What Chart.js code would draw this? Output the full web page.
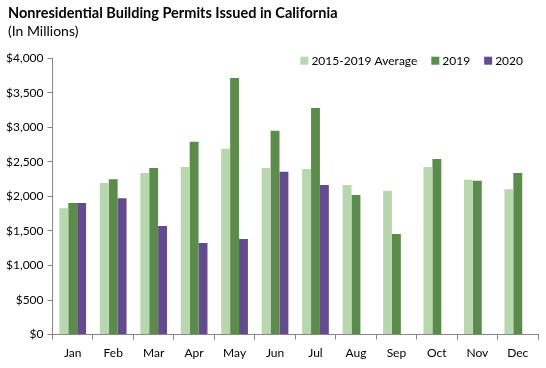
<!DOCTYPE html>
<html>
<head>
<meta charset="utf-8">
<script src="https://cdn.jsdelivr.net/npm/chart.js@4.4.1/dist/chart.umd.min.js"></script>
<style>
  html, body { margin: 0; padding: 0; background: #fff; }
  #wrap { width: 546px; height: 368px; position: relative; }
</style>
</head>
<body>
<div id="wrap"><canvas id="chartPermisos"></canvas></div>
<script>
// datos (millones de dolares)
const meses = ["Jan", "Feb", "Mar", "Apr", "May", "Jun", "Jul", "Aug", "Sep", "Oct", "Nov", "Dec"];
const promedio1519 = [1830, 2195, 2340, 2425, 2690, 2410, 2395, 2165, 2080, 2425, 2240, 2105];
const valores2019 = [1905, 2250, 2410, 2790, 3715, 2950, 3280, 2020, 1455, 2540, 2225, 2340];
const valores2020 = [1905, 1975, 1570, 1325, 1385, 2355, 2165, null, null, null, null, null];
const ticksY = [0, 500, 1000, 1500, 2000, 2500, 3000, 3500, 4000];

const fuente = "Lato, 'Open Sans', sans-serif";
const gris = "#868686";

// leyenda arriba a la derecha, encima del area del grafico (como en Excel)
const leyendaArriba = {
    id: "leyendaArriba",
    afterLayout(chart) {
        // correr titulo y subtitulo un poco a la derecha
        chart.boxes.forEach(b => {
            if (b.options && b.options.text && !b._corrido) {
                b.left += 6; b.right += 6; b._corrido = true;
            }
        });
    },
    afterDraw(chart) {
        const ctx = chart.ctx;
        const area = chart.chartArea;
        ctx.save();
        ctx.font = "12px " + fuente;
        ctx.textBaseline = "middle";
        const caja = 8, sep = 3, entre = 14;
        const items = chart.data.datasets.map(ds => ({ txt: ds.label, color: ds.backgroundColor, w: ctx.measureText(ds.label).width }));
        const total = items.reduce((s, it) => s + caja + sep + it.w, 0) + entre * (items.length - 1);
        let x = area.right - 15 - total;
        const y = area.top + 2.5;
        items.forEach(it => {
            ctx.fillStyle = it.color;
            ctx.fillRect(x, y - caja / 2, caja, caja);
            ctx.fillStyle = "#000";
            ctx.fillText(it.txt, x + caja + sep, y);
            x += caja + sep + it.w + entre;
        });
        ctx.restore();
    }
};

new Chart(document.getElementById("chartPermisos"), {
    type: "bar",
    data: {
        labels: meses,
        datasets: [
            { label: "2015-2019 Average", data: promedio1519, backgroundColor: "#b9d7ae" },
            { label: "2019", data: valores2019, backgroundColor: "#5b8c4b" },
            { label: "2020", data: valores2020, backgroundColor: "#634b8d" }
        ]
    },
    options: {
        responsive: true,
        maintainAspectRatio: false,
        animation: false,
        datasets: { bar: { categoryPercentage: 0.66, barPercentage: 1.0 } },
        layout: { padding: { left: 2, right: 8, top: 3, bottom: 2 } },
        plugins: {
            title: {
                display: true,
                text: "Nonresidential Building Permits Issued in California",
                align: "start",
                color: "#000",
                font: { family: fuente, size: 14.5, weight: "bold" },
                padding: { top: 2, bottom: 1 }
            },
            subtitle: {
                display: true,
                text: "(In Millions)",
                align: "start",
                color: "#000",
                font: { family: fuente, size: 14 },
                padding: { top: 0, bottom: 18 }
            },
            legend: { display: false },
            tooltip: { enabled: false }
        },
        scales: {
            x: {
                grid: { display: true, drawOnChartArea: false, drawTicks: true, tickLength: 5, color: gris, offset: true },
                border: { display: true, color: gris },
                ticks: { color: "#000", font: { family: fuente, size: 12 }, padding: 6 }
            },
            y: {
                min: 0,
                max: 4000,
                afterBuildTicks: (eje) => { eje.ticks = ticksY.map(v => ({ value: v })); },
                grid: { display: true, drawOnChartArea: false, drawTicks: true, tickLength: 5, color: gris },
                border: { display: true, color: gris },
                ticks: {
                    color: "#000",
                    font: { family: fuente, size: 12 },
                    padding: 4,
                    callback: (v) => "$" + v.toLocaleString("en-US")
                }
            }
        }
    },
    plugins: [leyendaArriba]
});
</script>
</body>
</html>
